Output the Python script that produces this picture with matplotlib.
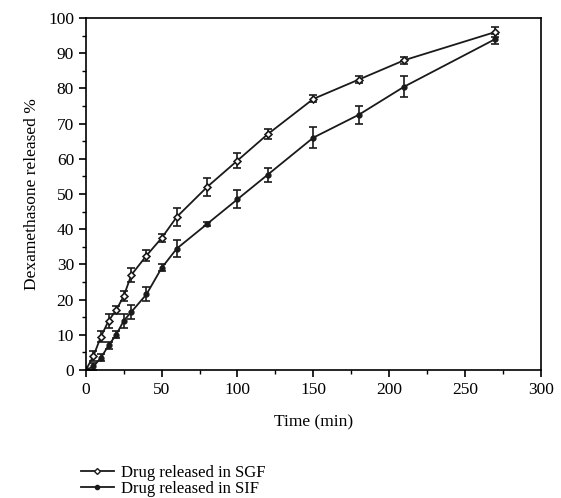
import matplotlib.pyplot as plt
from matplotlib.lines import Line2D
from matplotlib.ticker import MultipleLocator

plt.rcParams['font.family'] = ['Liberation Serif', 'DejaVu Serif']

time_min = [0, 5, 10, 15, 20, 25, 30, 40, 50, 60, 80, 100, 120, 150, 180, 210, 270]
sgf = [0, 4, 9.5, 14, 17, 21, 27, 32.5, 37.5, 43.5, 52, 59.5, 67, 77, 82.5, 88, 96]
sgf_err = [0, 1.5, 1.5, 2, 1.2, 1.5, 2, 1.5, 1, 2.5, 2.5, 2, 1.5, 1, 1, 1, 1.5]
sif = [0, 1, 3.5, 7, 10, 14, 16.5, 21.5, 29, 34.5, 41.5, 48.5, 55.5, 66, 72.5, 80.5, 94]
sif_err = [0, 1, 1, 1, 1, 2, 2, 2, 1, 2.5, 0.5, 2.5, 2, 3, 2.5, 3, 1.5]

col = '#1a1a1a'
fig = plt.figure(figsize=(5.61, 4.98), dpi=100)
ax = fig.add_axes([0.153, 0.257, 0.811, 0.707])

ax.errorbar(time_min, sgf, yerr=sgf_err, color=col, marker='D', markersize=3.5,
            markerfacecolor='white', markeredgewidth=1.2, linewidth=1.3,
            capsize=3, elinewidth=1.2, capthick=1.2)
ax.errorbar(time_min, sif, yerr=sif_err, color=col, marker='o', markersize=3.5,
            markerfacecolor=col, linewidth=1.3,
            capsize=3, elinewidth=1.2, capthick=1.2)

ax.set_xlim(0, 300)
ax.set_ylim(0, 100)
ax.xaxis.set_major_locator(MultipleLocator(50))
ax.xaxis.set_minor_locator(MultipleLocator(25))
ax.yaxis.set_major_locator(MultipleLocator(10))
ax.yaxis.set_minor_locator(MultipleLocator(5))
ax.tick_params(which='major', direction='out', length=5, width=1.2, labelsize=12.5)
ax.tick_params(which='minor', direction='out', length=3, width=1)
for s in ax.spines.values():
    s.set_linewidth(1.2)

ax.set_xlabel('Time (min)', fontsize=12.5, labelpad=12)
ax.set_ylabel('Dexamethasone released %', fontsize=12.5, labelpad=6)

handles = [
    Line2D([], [], color=col, marker='D', markersize=3, markerfacecolor='white',
           markeredgewidth=1, linewidth=1.3),
    Line2D([], [], color=col, marker='o', markersize=3, markerfacecolor=col, linewidth=1.3),
]
ax.legend(handles, ['Drug released in SGF', 'Drug released in SIF'],
          loc='upper left', bbox_to_anchor=(-0.03, -0.245), frameon=False, fontsize=12,
          handlelength=2.0, handletextpad=0.4, labelspacing=0.0, borderpad=0)

fig.savefig('out.png', dpi=100)
